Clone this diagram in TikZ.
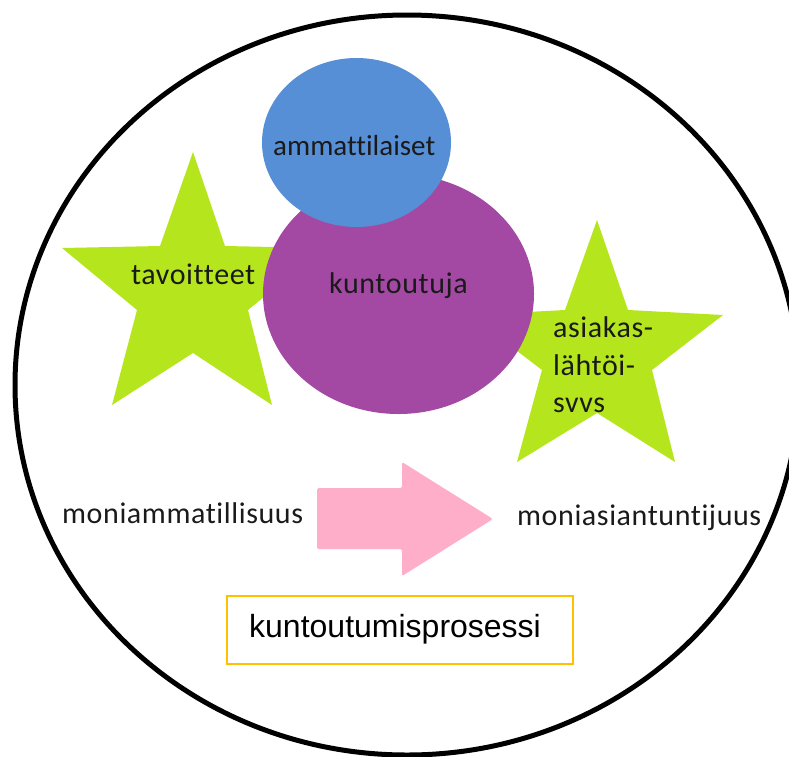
\documentclass[tikz,border=0pt]{standalone}
\usepackage{fontspec}
\setmainfont{Carlito}[Ligatures=NoCommon, LetterSpace=2]
\newfontfamily\plainfont{Carlito}[Ligatures=NoCommon]
\newfontfamily\arialfont{Liberation Sans}
\definecolor{lime}{HTML}{B5E61D}
\definecolor{purp}{HTML}{A349A4}
\definecolor{bluec}{HTML}{568FD6}
\definecolor{pinkc}{HTML}{FFAEC9}
\definecolor{gold}{HTML}{FFC000}
\definecolor{txt}{HTML}{1A1A1A}
\tikzset{
  lbl/.style={anchor=base west, inner sep=0pt, text=txt, font=\fontsize{30}{36}\selectfont},
  starshape/.style={fill=lime, draw=none},
}
\begin{document}
\begin{tikzpicture}[x=1pt,y=-1pt]
\useasboundingbox (0,0) rectangle (789,756);
% outer ellipse
\draw[line width=5pt, black] (407,385) ellipse [x radius=392, y radius=370];
% left star
\fill[starshape] (193,152) -- (225,246) -- (324,248) -- (248,310) -- (272,405) -- (193,353) -- (112,405) -- (137,310) -- (62,248) -- (160,246) -- cycle;
% right star
\fill[starshape] (597,220) -- (628,310) -- (723,315) -- (652,370) -- (675,462) -- (597,413) -- (517,462) -- (542,370) -- (470,315) -- (565,310) -- cycle;
% purple circle
\fill[purp] (398.5,294) ellipse [x radius=135.5, y radius=120];
% blue ellipse
\fill[bluec] (356.5,142.5) ellipse [x radius=94.5, y radius=84.5];
% texts
\node[lbl, font=\plainfont\fontsize{29}{35}\selectfont] (amm) at (273,155) {ammattilaiset};
\node[lbl] (kun) at (329,293) {kuntoutuja};
\node[lbl] (tav) at (131,284) {tavoitteet};
\node[lbl] (as1) at (553,337) {asiakas-};
\node[lbl] (as2) at (553,375) {lähtöi-};
\node[lbl] (as3) at (553,412) {svvs};
\node[lbl] (moa) at (62,523) {moniammatillisuus};
\node[lbl] (mos) at (517,525) {moniasiantuntijuus};
% pink arrow
\fill[pinkc, rounded corners=1.5pt] (317,488) -- (402,488) -- (402,462) -- (493,519) -- (402,576) -- (402,549) -- (317,549) -- cycle;
% process box
\node[draw=gold, line width=1.5pt, minimum width=346pt, minimum height=68pt, inner sep=0pt] (box) at (400,630) {};
\node[anchor=base west, inner sep=0pt, font=\arialfont\fontsize{32}{38}\selectfont] (proc) at (249,637) {kuntoutumisprosessi};
\end{tikzpicture}
\end{document}
